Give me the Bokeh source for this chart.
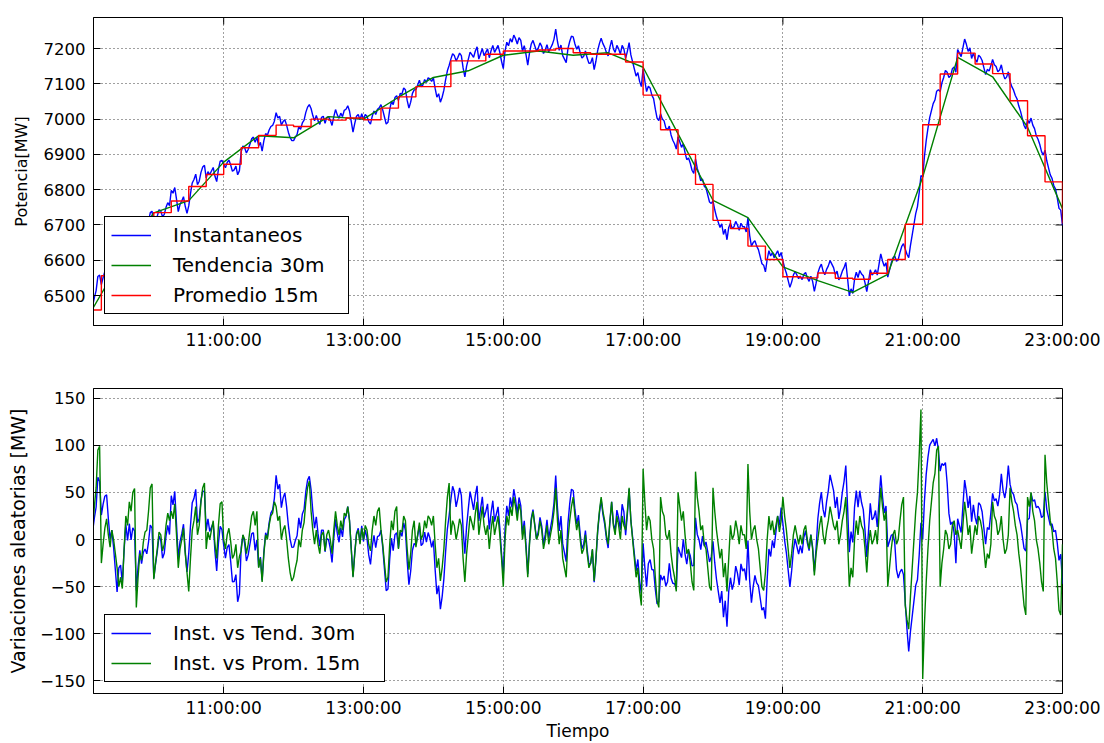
import numpy as np
from bokeh.plotting import figure
from bokeh.layouts import column
from bokeh.models import (Legend, LegendItem, FixedTicker, Range1d,
                          CustomJSTickFormatter)
from bokeh.embed import file_html
from bokeh.resources import INLINE

# ---------------- data ----------------
# x axis in hours of the day
x_start, x_end = 9.1375, 23.0
x_ticks = [11, 13, 15, 17, 19, 21, 23]
y_ticks_top = [6500, 6600, 6700, 6800, 6900, 7000, 7100, 7200]
y_ticks_bot = [-150, -100, -50, 0, 50, 100, 150]
y_lim_top = (6415, 7288)
y_lim_bot = (-163.3, 160.2)

# Promedio 15m: one value per quarter hour starting 9:00 (last = 23:00)
prom15 = [6459, 6556, 6610, 6680,
          6735, 6768, 6809, 6843,
          6872, 6919, 6954, 6983,
          6979, 7000, 6997, 7003,
          6998, 7031, 7063, 7092,
          7092, 7165, 7165, 7184,
          7193, 7193, 7196, 7200,
          7188, 7184, 7184, 7162,
          7068, 6970, 6900, 6815,
          6713, 6690, 6640, 6602,
          6553, 6550, 6564, 6549,
          6546, 6563, 6602, 6702,
          6984, 7128, 7187, 7156,
          7129, 7052, 6953, 6822,
          6704]

# Tendencia 30m: one value per half hour starting 9:00
tend30 = [6420, 6590, 6734, 6769, 6878, 6953, 6947, 7007, 7000, 7062,
          7118, 7137, 7181, 7193, 7181, 7188, 7147, 6958, 6770, 6721,
          6581, 6542, 6509, 6560, 6836, 7175, 7120, 6977, 6746]

# Inst. vs Prom. 15m (instantaneous minus its 15-min mean),
# every 1.5 min from 9:06; one row = one quarter hour
var_prom15 = [
    20, 12, 35, 55, 95, 99,
    -25, -5, 12, 22, 5, -8, 10, 0, -15, -30,
    -50, -40, -52, -10, 25, 15, 40, 30, 50, 54,
    -72, -40, -15, -22, -3, 8, 10, 30, 55, 59,
    -42, -25, -10, 8, 5, -12, -5, 15, 28, 20,
    30, 22, 38, 5, -30, -10, 0, 12, -15, -35,
    -55, -20, 10, 20, 35, 5, 15, 40, 55, 60,
    -10, 8, 0, 10, 20, -5, -20, 15, 38, 40,
    0, -10, 5, 12, -2, -20, -16, -5, -30, -18,
    -12, 5, 0, -15, -5, 10, 25, 30, 15, 30,
    -30, -20, -45, -15, 5, 0, 15, 25, 28, 40,
    35, 20, 25, 0, 10, 15, 0, -20, -35, -44,
    -40, -30, -22, 0, -8, 10, 18, 40, 55, 62,
    30, 10, -5, 10, -5, -15, 5, 8, -12, 5,
    10, 0, -15, 10, 30, 15, 5, 20, 10, 28,
    25, 35, 20, -10, -40, -15, 5, 10, -5, 12,
    0, 15, 10, -5, -12, 10, 25, 15, 30, 34,
    10, -5, -25, -45, -40, -5, 20, 10, 30, 35,
    -10, 10, 8, 25, 20, -10, -32, -15, 10, 20,
    -8, 5, 18, 0, 5, 20, 12, 25, 22, 15,
    25, -5, -30, -20, -44, -30, -10, 20, 45, 60,
    5, 20, 15, 0, 10, 22, 15, -20, -45, -15,
    5, 25, 18, 10, 28, 40, 5, 20, 35, 15,
    5, 15, -10, 10, 25, 5, 15, 25, 5, -20,
    -50, 0, 25, 15, 35, 25, 45, 35, 20, 38,
    30, 0, 15, -10, -40, -5, 20, 30, 15, 0,
    5, 20, 10, -10, 0, 15, -5, 5, 15, 30,
    55, 20, -5, 10, -20, -30, -40, 0, 20, 35,
    45, 25, 10, 20, 0, -15, -10, 5, -15, -30,
    -25, -10, -44, -20, 10, 30, 45, 30, 20, 5,
    -5, 20, 40, 15, 5, 25, 15, 0, 25, 15,
    10, 30, 55, 20, 0, -20, -40, -30, -55, -70,
    75, 40, 10, 25, 20, 0, -10, -40, -65, -72,
    45, 30, 25, 5, 0, 10, -15, -30, -40, -55,
    50, 35, 20, 30, 5, -15, -10, -25, -45, -54,
    72, 45, 30, 10, 15, -5, -10, -30, -50, -54,
    55, 30, 10, -5, -20, -10, -40, -25, -55, -20,
    15, 0, 5, 20, 10, -5, 15, 5, 5, -10,
    80, 30, 0, 10, 15, 0, -10, -30, -50, -54,
    -35, 0, 25, 10, 20, 5, 15, 25, 8, 20,
    45, 25, 10, -10, -30, -15, 5, 15, 5, -5,
    5, -5, 10, 15, 0, -10, 5, -10, -38, -15,
    0, 15, 25, 5, -5, 10, 20, 35, 25, 15,
    10, 20, -5, 5, 20, 30, 45, 0, -50, -30,
    -40, 0, 20, 5, 25, 15, 10, -10, -35, -5,
    10, -5, 0, 10, -5, 25, 55, 35, 20, 30,
    -50, -30, -10, 5, 10, -5, 0, 20, 37, 45,
    -70, -85, -95, -60, -30, 0, 30, 50, 90, 138,
    -148, -90, -45, -10, 20, 40, 60, 70, 95, 99,
    -50, -25, -10, 10, 5, -10, -5, 15, 20, 5,
    10, 0, -10, 15, 40, 25, 5, 15, -15, 0,
    15, 5, 25, 20, 10, -10, -30, -15, -20, -5,
    40, 25, 20, 5, 10, 25, 0, -15, -10, 5,
    55, 40, 30, 15, 5, -15, -30, -50, -70, -80,
    45, 35, 50, 30, 20, 0, -10, -25, -45, -55,
    90, 60, 40, 20, 10, -10, -20, -45, -75, -80,
    -5,
]

# ---------------- derived series ----------------
minutes = 6 + 1.5 * np.arange(len(var_prom15))        # minutes after 9:00
t_inst = 9.0 + minutes / 60.0
t_prom = 9.0 + np.arange(len(prom15)) * 0.25
t_tend = 9.0 + np.arange(len(tend30)) * 0.5
quarter = (np.round(minutes * 2).astype(int)) // 30
inst = np.array(prom15, dtype=float)[quarter] + np.array(var_prom15, dtype=float)
var_tend30 = inst - np.interp(t_inst, t_tend, tend30)

FONT = "DejaVu Sans"
xfmt = CustomJSTickFormatter(code="return tick + ':00:00'")
yfmt = CustomJSTickFormatter(code="return tick < 0 ? '\u2212' + Math.abs(tick) : '' + tick")


def make_fig(height, ylim, border_top, border_bottom, yticks):
    p = figure(width=1104, height=height, output_backend="svg", toolbar_location=None,
               x_range=Range1d(x_start, x_end), y_range=Range1d(*ylim),
               min_border_left=93, min_border_right=42,
               min_border_top=border_top, min_border_bottom=border_bottom,
               background_fill_color="white", border_fill_color="white")
    p.outline_line_color = "black"
    p.outline_line_width = 1
    p.outline_line_alpha = 1
    xa, ya = p.below[0], p.left[0]
    xa.ticker = FixedTicker(ticks=x_ticks)
    xa.formatter = xfmt
    ya.ticker = FixedTicker(ticks=yticks)
    ya.formatter = yfmt
    for ax in (xa, ya):
        ax.major_tick_in = 7
        ax.major_tick_out = 0
        ax.minor_tick_line_color = None
        ax.major_tick_line_color = "black"
        ax.axis_line_color = "black"
        ax.major_label_text_color = "black"
        ax.major_label_text_font = FONT
        ax.axis_label_text_font = FONT
        ax.axis_label_text_font_style = "normal"
        ax.axis_label_text_color = "black"
    xa.major_label_text_font_size = "17px"
    xa.major_label_standoff = 4
    ya.major_label_text_font_size = "16.5px"
    ya.major_label_standoff = 8
    # tick marks on the top and right edges, pointing inwards
    p.ray(x=x_ticks, y=[ylim[1]] * len(x_ticks), length=7, length_units="screen",
          angle=-np.pi / 2, line_color="black", line_width=1)
    p.ray(x=[x_end] * len(yticks), y=yticks, length=7, length_units="screen",
          angle=np.pi, line_color="black", line_width=1)
    for g in (p.xgrid[0], p.ygrid[0]):
        g.grid_line_color = "black"
        g.grid_line_alpha = 0.75
        g.grid_line_dash = "1 3"
        g.grid_line_width = 1
    return p, xa, ya


def make_legend(items, label_width):
    return Legend(items=items, location=(11, 11), label_text_font=FONT,
                  label_text_font_size="20px", label_text_color="black",
                  glyph_width=40, glyph_height=20, label_standoff=22, label_height=20,
                  label_width=label_width, padding=6, spacing=6, margin=0,
                  border_line_color="black", border_line_width=1, border_line_alpha=1,
                  background_fill_color="white", background_fill_alpha=1)


# ---------------- top plot ----------------
p1, xa1, ya1 = make_fig(360, y_lim_top, 17, 35, y_ticks_top)
ya1.axis_label = "Potencia[MW]"
ya1.axis_label_text_font_size = "16px"
ya1.axis_label_standoff = 10
rb = p1.line(t_inst, inst, line_color="#0000ff", line_width=1.4)
rg = p1.line(t_tend, tend30, line_color="#008000", line_width=1.4)
rr = p1.step(t_prom, prom15, mode="after", line_color="#ff0000", line_width=1.4)
p1.add_layout(make_legend([LegendItem(label="Instantaneos", renderers=[rb]),
                           LegendItem(label="Tendencia 30m", renderers=[rg]),
                           LegendItem(label="Promedio 15m", renderers=[rr])], 169))

# ---------------- bottom plot ----------------
p2, xa2, ya2 = make_fig(383, y_lim_bot, 28, 49, y_ticks_bot)
ya2.axis_label = "Variaciones aleatorias [MW]"
ya2.axis_label_text_font_size = "19px"
ya2.axis_label_standoff = 8
xa2.axis_label = "Tiempo"
xa2.axis_label_text_font_size = "17px"
xa2.axis_label_standoff = 0
b1 = p2.line(t_inst, var_tend30, line_color="#0000ff", line_width=1.4)
b2 = p2.line(t_inst, var_prom15, line_color="#008000", line_width=1.4)
p2.add_layout(make_legend([LegendItem(label="Inst. vs Tend. 30m", renderers=[b1]),
                           LegendItem(label="Inst. vs Prom. 15m", renderers=[b2])], 205))

layout = column(p1, p2, spacing=0)
open("out.html", "w").write(file_html(layout, INLINE))
